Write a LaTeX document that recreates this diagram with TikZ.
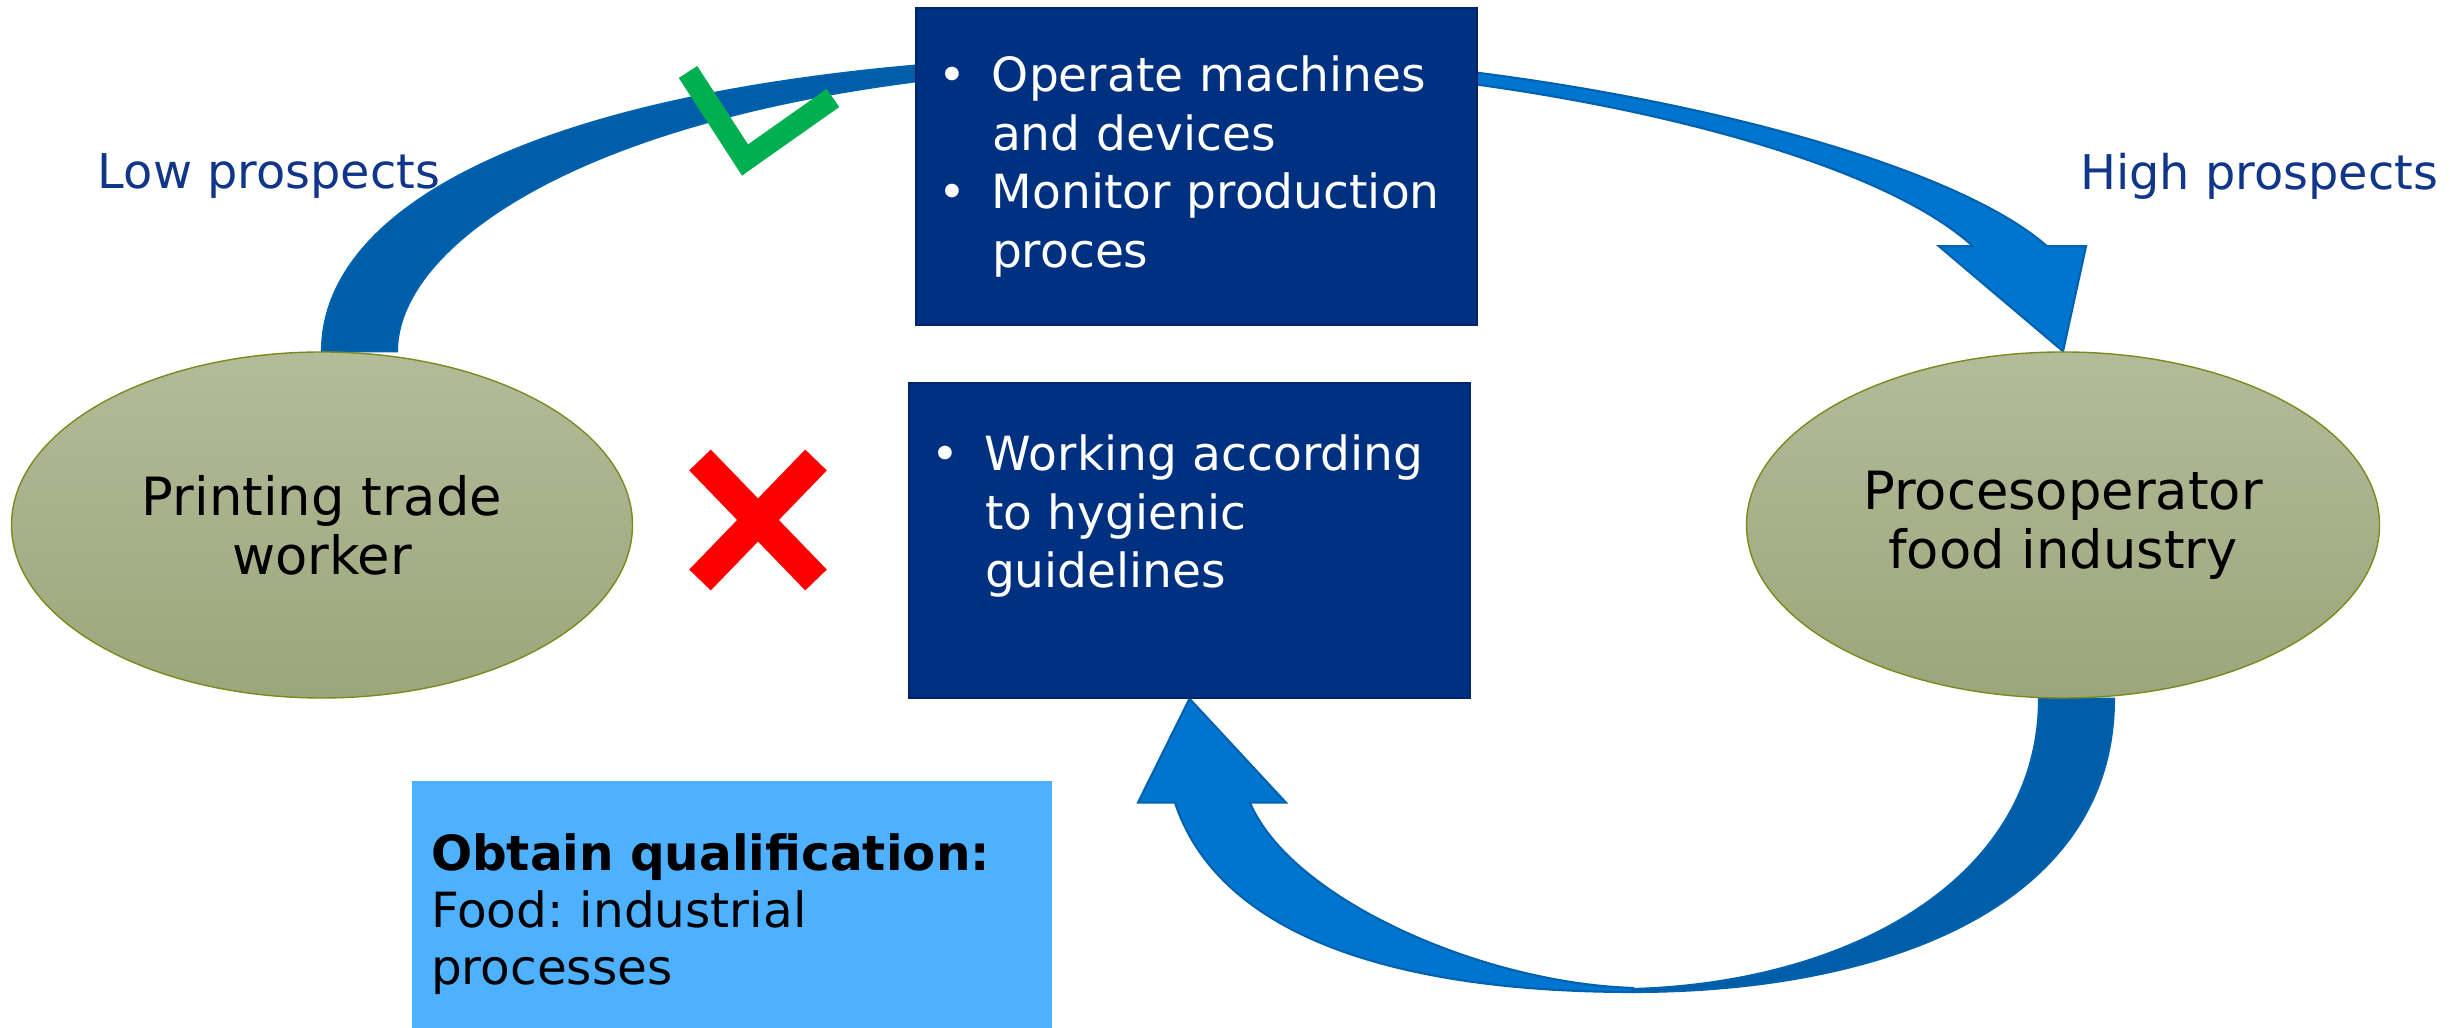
\documentclass[tikz,border=0pt]{standalone}
\usepackage{fontspec}
\setmainfont{DejaVu Sans}
\usetikzlibrary{shapes.geometric, calc, backgrounds, positioning}
\frenchspacing

\definecolor{navybox}{HTML}{003080}
\definecolor{navyline}{HTML}{00246B}
\definecolor{skybox}{HTML}{4DB1FF}
\definecolor{bandlight}{HTML}{0075CF}
\definecolor{banddark}{HTML}{005DA8}
\definecolor{bandline}{HTML}{0062AE}
\definecolor{olivetop}{HTML}{B3BB99}
\definecolor{olivebot}{HTML}{9CA67A}
\definecolor{oliveline}{HTML}{7A8B1E}
\definecolor{labelblue}{HTML}{10368A}
\definecolor{tickgreen}{HTML}{00B050}

\newcommand{\bulline}[1]{\hangindent=0.54cm\hangafter=1\noindent\makebox[0.54cm][l]{\textbullet}#1\par}

\begin{document}
\begin{tikzpicture}
\tikzstyle{job}=[ellipse, draw=oliveline, top color=olivetop, bottom color=olivebot, inner sep=0pt, align=center, font=\fontsize{15}{16.8}\selectfont]
\tikzstyle{taskbox}=[rectangle, draw=navyline, fill=navybox, text=white, text width=5.17cm, inner xsep=0.22cm, inner ysep=0pt, align=left, font=\fontsize{13.4}{16.7}\selectfont]
\tikzstyle{prospect}=[text=labelblue, font=\fontsize{13.6}{16}\selectfont]
\tikzstyle{band}=[draw=bandline, line width=0.6pt]

\useasboundingbox (0,0) rectangle (24.5,10.28);

\node[job, minimum width=6.21cm, minimum height=3.46cm] (printer) at (3.22,5.03) {Printing trade\\worker};
\node[job, minimum width=6.33cm, minimum height=3.46cm] (operator) at (20.63,5.03) {Procesoperator\\food industry};

\node[taskbox, minimum height=3.17cm] (tasks) at (11.965,8.615) {\bulline{Operate machines\newline and devices}\bulline{Monitor production\newline proces}};
\node[taskbox, minimum height=3.15cm] (hygiene) at (11.895,4.875) {\bulline{Working according\newline to hygienic\newline guidelines}\mbox{}\par};

\node[rectangle, fill=skybox, text width=6.02cm, inner xsep=0.19cm, minimum height=2.66cm, align=left, font=\fontsize{13.8}{16.2}\selectfont] (qualif) at (7.32,1.14) {\textbf{Obtain qualification:}\\Food: industrial\\processes};

\node[prospect] (lowp) at (2.69,8.52) {Low prospects};
\node[prospect] (highp) at (22.59,8.52) {High prospects};

% tick and cross
\draw[tickgreen, line width=0.22cm] (6.88,9.56) -- (7.45,8.68) -- (8.33,9.30);
\draw[red, line width=0.30cm] (7.00,5.68) -- (8.16,4.48) (8.16,5.68) -- (7.00,4.48);

\begin{scope}[on background layer]
% upper band
\path[band, fill=banddark] (printer.north) .. controls +(0,1.64) and (6.0,9.74) .. (12.0,9.74)
  -- (12.0,9.64) .. controls (6.5,9.62) and ($(printer.north)+(0.75,1.24)$) .. ($(printer.north)+(0.75,0)$) -- cycle;
\path[band, fill=bandlight] (12.0,9.74) .. controls (15.2,9.74) and (19.3,8.85) .. ($(operator.north)+(-0.16,1.05)$)
  -- ($(operator.north)+(0.23,1.05)$) -- (operator.north) -- ($(operator.north)+(-1.24,1.05)$)
  -- ($(operator.north)+(-0.90,1.05)$) .. controls (18.6,8.85) and (15.0,9.62) .. (12.0,9.64) -- cycle;
% lower band
\path[band, fill=banddark] ($(operator.south)+(0.51,0)$) .. controls +(0,-2.1) and (18.8,0.36) .. (16.33,0.36)
  -- (16.33,0.39) .. controls (18.5,0.45) and +(0,-1.8) .. ($(operator.south)+(-0.24,0)$) -- cycle;
\path[band, fill=bandlight] (16.33,0.36) .. controls (14.0,0.36) and (12.2,0.90) .. ($(hygiene.south)+(-0.145,-1.04)$)
  -- ($(hygiene.south)+(-0.515,-1.04)$) -- (hygiene.south) -- ($(hygiene.south)+(0.965,-1.04)$)
  -- ($(hygiene.south)+(0.605,-1.04)$) .. controls (12.9,1.3) and (14.8,0.45) .. (16.33,0.40) -- cycle;
\end{scope}
\end{tikzpicture}
\end{document}
